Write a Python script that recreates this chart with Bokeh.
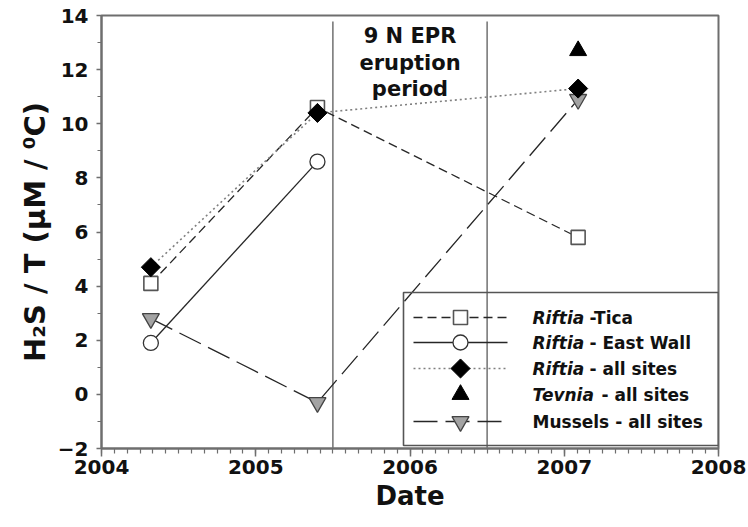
import numpy as np
from bokeh.plotting import figure
from bokeh.models import SingleIntervalTicker, Range1d
from bokeh.core.properties import value
from bokeh.embed import file_html
from bokeh.resources import INLINE

# ---------------- data ----------------
survey_dates = [2004.32, 2005.40, 2007.09]
riftia_tica = [4.1, 10.6, 5.8]
eastwall_dates = [2004.32, 2005.40]
riftia_eastwall = [1.9, 8.6]
riftia_all = [4.7, 10.4, 11.3]
tevnia_dates = [2007.09]
tevnia_all = [12.7]
mussels_all = [2.8, -0.3, 10.9]
eruption_period = [2005.5, 2006.5]
eruption_note = ["9 N EPR", "eruption", "period"]
x_limits = [2004, 2008]
y_limits = [-2, 14]

FONT = "DejaVu Sans"
INK = "#262626"
AXIS = "#6e6e6e"

W, H = 748, 527
BL, BT = 101, 15
FW, FH = 617, 433
BR, BB = W - BL - FW, H - BT - FH

p = figure(width=W, height=H, x_range=Range1d(*x_limits), y_range=Range1d(*y_limits),
           output_backend="svg", toolbar_location=None,
           min_border_left=BL, min_border_right=BR, min_border_top=BT, min_border_bottom=BB)
p.background_fill_color = "white"
p.border_fill_color = "white"
p.outline_line_color = AXIS
p.outline_line_width = 2
p.xgrid.visible = False
p.ygrid.visible = False

p.xaxis.ticker = SingleIntervalTicker(interval=1, num_minor_ticks=12)
p.yaxis.ticker = SingleIntervalTicker(interval=2, num_minor_ticks=2)
for ax in (p.xaxis, p.yaxis):
    ax.axis_line_color = AXIS
    ax.axis_line_width = 2
    ax.major_tick_line_color = AXIS
    ax.minor_tick_line_color = AXIS
    ax.major_tick_line_width = 1.5
    ax.minor_tick_line_width = 1.2
    ax.major_tick_in = 0
    ax.minor_tick_in = 0
    ax.major_label_text_font = FONT
    ax.major_label_text_font_style = "bold"
    ax.major_label_text_font_size = "20px"
    ax.major_label_text_color = "#111111"
    ax.axis_label_text_font = FONT
    ax.axis_label_text_font_style = "bold"
    ax.axis_label_text_color = "#111111"
p.xaxis.axis_label_text_font_size = "26px"
p.yaxis.axis_label_text_font_size = "29px"
p.xaxis.major_tick_out = 8
p.xaxis.minor_tick_out = 5
p.yaxis.major_tick_out = 5
p.yaxis.minor_tick_out = 4
p.xaxis.axis_label = "Date"
p.yaxis.axis_label = "H\u2082S / T (\u03bcM / \u2070C)"
p.xaxis.major_label_standoff = 3
p.xaxis.axis_label_standoff = 4
p.yaxis.major_label_standoff = 8
p.yaxis.axis_label_standoff = 3


def fx(px):
    return x_limits[0] + px * (x_limits[1] - x_limits[0]) / FW


def fy(px):
    return y_limits[1] - px * (y_limits[1] - y_limits[0]) / FH


# eruption period boundaries
p.segment(x0=eruption_period, x1=eruption_period,
          y0=[y_limits[0]] * 2, y1=[fy(6)] * 2,
          line_color="#7a7a7a", line_width=1.6)
p.text(x=[float(np.mean(eruption_period))] * 3, y=[fy(20), fy(47), fy(73)], text=eruption_note,
       text_align="center", text_baseline="middle", text_font=value(FONT), text_font_style="bold",
       text_font_size="21px", text_color="#111111")

# series lines
p.line(survey_dates, riftia_tica, line_color=INK, line_width=1.3, line_dash="9 5")
p.line(eastwall_dates, riftia_eastwall, line_color=INK, line_width=1.3)
p.line(survey_dates, riftia_all, line_color="#808080", line_width=1.6, line_dash="2 3")
p.line(survey_dates, mussels_all, line_color=INK, line_width=1.3, line_dash="24 8")

# markers
STY = {
    "tica": dict(marker="square", size=14, fill_color="white", line_color="#555555", line_width=1.6, angle=0.0),
    "east": dict(marker="circle", size=15, fill_color="white", line_color="#333333", line_width=1.3, angle=0.0),
    "rall": dict(marker="square", size=13.5, fill_color="black", line_color="black", line_width=1, angle=np.pi / 4),
    "tev": dict(marker="triangle", size=17, fill_color="black", line_color="black", line_width=1, angle=0.0),
    "mus": dict(marker="inverted_triangle", size=17, fill_color="#a3a3a3", line_color="#444444", line_width=1.3, angle=0.0),
}
p.scatter(survey_dates, mussels_all, **STY["mus"])
p.scatter(survey_dates, riftia_tica, **STY["tica"])
p.scatter(eastwall_dates, riftia_eastwall, **STY["east"])
p.scatter(survey_dates, riftia_all, **STY["rall"])
p.scatter(tevnia_dates, tevnia_all, **STY["tev"])

# ---------------- hand-drawn legend (layout in frame pixels) ----------------
box_l, box_r, box_t, box_b = 302, FW, 277, 430
p.quad(left=[fx(box_l)], right=[fx(box_r)], top=[fy(box_t)], bottom=[fy(box_b)],
       fill_alpha=0, line_color="#555555", line_width=1.6)

row_px = [302, 327, 353, 379, 406]
line_l, line_r, mark_x, text_x = 312, 406, 359, 431
rows = [
    ("Riftia", "-Tica", "9 5", INK, 1.3, "tica"),
    ("Riftia", "- East Wall", "solid", INK, 1.3, "east"),
    ("Riftia", "- all sites", "2 3", "#808080", 1.6, "rall"),
    ("Tevnia", "- all sites", None, INK, 1.3, "tev"),
    ("", "Mussels - all sites", "24 8", INK, 1.3, "mus"),
]
italic_w = {"Riftia": 57, "Tevnia": 69, "": 0}
for (ital, rest, dash, col, lw, key), rp in zip(rows, row_px):
    yy = fy(rp)
    if dash is not None:
        p.line([fx(line_l), fx(line_r)], [yy, yy], line_color=col, line_width=lw, line_dash=dash)
    p.scatter([fx(mark_x)], [yy], **STY[key])
    if ital:
        p.text(x=[fx(text_x)], y=[yy], text=[ital], text_font=value(FONT), text_font_style="bold italic",
               text_font_size="17px", text_baseline="middle", text_color="#111111")
    p.text(x=[fx(text_x)], y=[yy], x_offset=italic_w[ital], text=[rest], text_font=value(FONT),
           text_font_style="bold", text_font_size="17px", text_baseline="middle", text_color="#111111")

open("out.html", "w").write(file_html(p, INLINE))
